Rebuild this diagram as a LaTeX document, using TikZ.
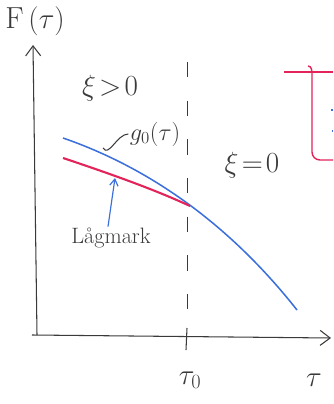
\documentclass[tikz,border=0pt]{standalone}
\usepackage{tikz}
\usepackage{amsmath}
\usetikzlibrary{arrows.meta,positioning,calc}
\definecolor{skInk}{HTML}{3A3A3A}
\definecolor{skBlue}{HTML}{3B6FDB}
\definecolor{skRed}{HTML}{E3245A}
\tikzset{
  axis/.style={-{Straight Barb[length=3mm,width=4.5mm]}, line width=0.9pt, skInk},
  handtxt/.style={font=\fontsize{26}{26}\selectfont, text=skInk, inner sep=1pt},
  bigtxt/.style={font=\fontsize{34}{34}\selectfont, text=skInk, inner sep=1pt},
  curveb/.style={line width=1.3pt, skBlue},
  curver/.style={line width=1.8pt, skRed},
  border/.style={line width=1.2pt, skRed},
  pointer/.style={-{Straight Barb[length=2mm,width=2.5mm]}, line width=1pt, skBlue},
  divider/.style={line width=0.7pt, skInk, dash pattern=on 13pt off 20pt}
}
\begin{document}
\begin{tikzpicture}[x=0.03cm, y=-0.03cm]
  \useasboundingbox (0,0) rectangle (333,404);
  % axes
  \coordinate (o) at (37,335);
  \coordinate (ytop) at (33,45);
  \coordinate (xstart) at (32,335);
  \coordinate (xend) at (331,338);
  \draw[axis] (o) -- (ytop);
  \draw[axis] (xstart) -- (xend);
  \node[handtxt] (flab) at (35,21) {F$\,(\tau)$};
  \node[handtxt] (tlab) at (314,380) {$\tau$};
  % tau_0 tick and divider
  \coordinate (t0top) at (187,62);
  \coordinate (t0mid) at (187,328);
  \coordinate (t0bot) at (186,350);
  \draw[divider] (t0top) -- (t0mid);
  \draw[line width=0.9pt, skInk] (t0mid) -- (t0bot);
  \node[handtxt] (t0lab) at (190,380) {$\tau_0$};
  % regions
  \node[bigtxt] (xipos) at (110,88) {$\xi\!>\!0$};
  \node[bigtxt] (xizero) at (252,165) {$\xi\!=\!0$};
  % curves
  \coordinate (touch) at (190,206);
  \draw[curveb] (63,138) .. controls (150,168) and (230,225) .. (297,310);
  \draw[curver] (63,158) .. controls (120,177) and (160,192) .. (touch);
  % labels on curves
  \node[handtxt, font=\fontsize{21}{21}\selectfont] (glab) at (155,134) {$g_0(\tau)$};
  \draw[line width=0.9pt, skInk] (103,148) to[out=-60,in=180] (glab.west);
  \node[handtxt, font=\fontsize{19}{19}\selectfont] (lmark) at (111,238) {Lågmark};
  \coordinate (lhit) at (115,178);
  \draw[pointer] (lmark.north) ++(-3,0) -- (lhit);
  % red frame at right edge
  \draw[border] (284,72) -- (333,72);
  \draw[border] (308,66) to[out=0,in=90] (312,74) -- (312,152) to[out=-90,in=180] (320,160) -- (333,160);
  \draw[line width=1pt, skBlue] (331,110) -- (333,110);
  \draw[line width=1pt, skBlue] (332,131) -- (333,131);
\end{tikzpicture}
\end{document}
